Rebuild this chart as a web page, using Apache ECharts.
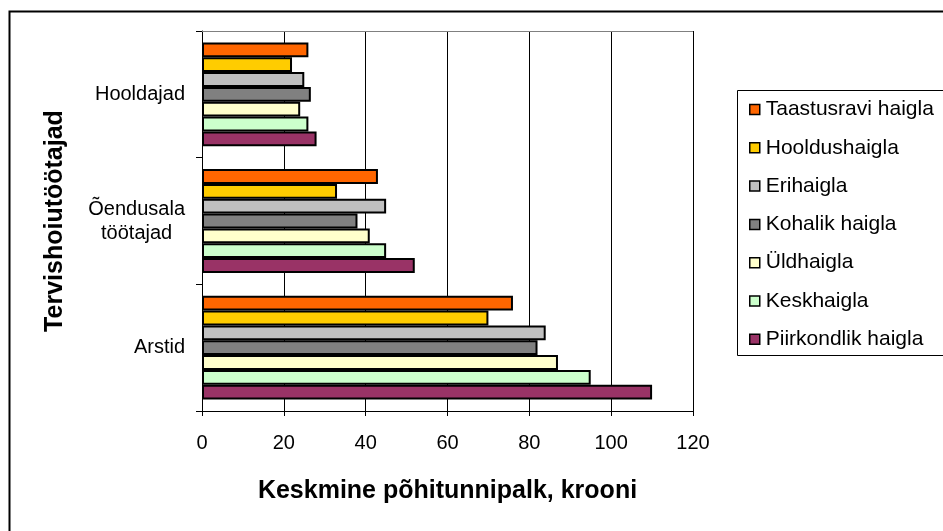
<!DOCTYPE html>
<html>
<head>
<meta charset="utf-8">
<script src="https://cdn.jsdelivr.net/npm/echarts@6/dist/echarts.min.js"></script>
<style>
  html, body { margin: 0; padding: 0; background: #fff; }
  #chart { width: 943px; height: 531px; }
</style>
</head>
<body>
<div id="chart"></div>
<script>
// categories from bottom to top
const categories = ["Arstid", "Õendusala töötajad", "Hooldajad"];
const xTicks = [0, 20, 40, 60, 80, 100, 120];

// legend order (top to bottom)
const hospitals = ["Taastusravi haigla", "Hooldushaigla", "Erihaigla", "Kohalik haigla", "Üldhaigla", "Keskhaigla", "Piirkondlik haigla"];
const colors = ["#FF6600", "#FFCC00", "#C0C0C0", "#808080", "#FFFFCC", "#CCFFCC", "#993366"];

// values per hospital: [Arstid, Õendusala töötajad, Hooldajad]
const taastusravi = [76, 43, 26];
const hooldus = [70, 33, 22];
const eri = [84, 45, 25];
const kohalik = [82, 38, 26.6];
const uld = [87, 41, 24];
const kesk = [95, 45, 26];
const piirkondlik = [110, 52, 28];

const values = [taastusravi, hooldus, eri, kohalik, uld, kesk, piirkondlik];

const series = hospitals.map((name, i) => ({
    name: name,
    type: "bar",
    data: values[i],
    barGap: "0%",
    barCategoryGap: "18%",
    itemStyle: { color: colors[i], borderColor: "#000", borderWidth: 2 }
}));

const chart = echarts.init(document.getElementById("chart"));
chart.setOption({
    animation: false,
    textStyle: { fontFamily: "Liberation Sans, Arial, sans-serif" },
    grid: { left: 202, right: 250, top: 31, bottom: 120 },
    legend: {
        orient: "vertical",
        left: 744,
        top: 94,
        itemWidth: 10,
        itemHeight: 10,
        itemGap: 17.3,
        icon: "rect",
        data: hospitals,
        itemStyle: { borderWidth: 1.5, borderColor: "#000" },
        textStyle: { fontSize: 21, lineHeight: 21, color: "#000", padding: [0, 0, 0, 1] }
    },
    xAxis: {
        type: "value",
        min: 0,
        max: 120,
        interval: 20,
        name: "Keskmine põhitunnipalk, krooni",
        nameLocation: "middle",
        nameGap: 68,
        nameTextStyle: { fontSize: 25, fontWeight: "bold", color: "#000" },
        axisLine: { show: true, lineStyle: { color: "#000", width: 1 } },
        axisTick: { show: true, length: 5, lineStyle: { color: "#000" } },
        axisLabel: { fontSize: 20, color: "#000", margin: 22,
            formatter: v => xTicks.includes(v) ? String(v) : "" },
        splitLine: { show: true, lineStyle: { color: "#000", width: 1 } }
    },
    yAxis: {
        type: "category",
        data: categories,
        name: "Tervishoiutöötajad",
        nameLocation: "middle",
        nameGap: 134,
        nameRotate: 90,
        nameTextStyle: { fontSize: 25, fontWeight: "bold", color: "#000" },
        axisLine: { show: true, lineStyle: { color: "#000", width: 1 } },
        axisTick: { show: true, length: 6, lineStyle: { color: "#000" } },
        axisLabel: {
            fontSize: 20, color: "#000", margin: 17, lineHeight: 24,
            formatter: v => v === "Õendusala töötajad" ? "{c|Õendusala}\n{c|töötajad}" : v,
            rich: { c: { align: "center", fontSize: 20, color: "#000", lineHeight: 24 } }
        },
        splitLine: { show: false }
    },
    graphic: [
        { type: "rect", z: 100, silent: true,
          shape: { x: 9.5, y: 11.5, width: 960, height: 560 },
          style: { fill: "none", stroke: "#000", lineWidth: 2 } },
        { type: "rect", z: 100, silent: true,
          shape: { x: 737.5, y: 90.5, width: 220, height: 265 },
          style: { fill: "none", stroke: "#000", lineWidth: 1 } },
        { type: "line", z: 100, silent: true,
          shape: { x1: 202, y1: 31.5, x2: 693, y2: 31.5 },
          style: { stroke: "#808080", lineWidth: 1 } }
    ],
    series: series
});
</script>
</body>
</html>
